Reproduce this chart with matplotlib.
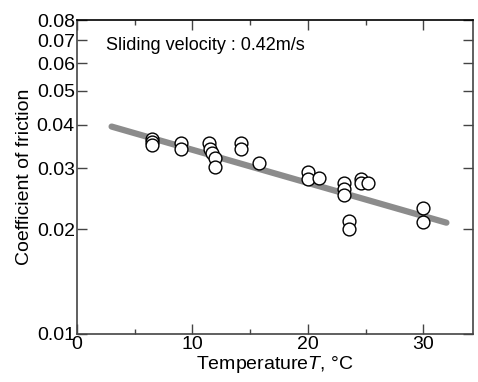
import matplotlib.pyplot as plt
from matplotlib.ticker import FixedLocator, NullLocator

plt.rcParams['font.family'] = ['Liberation Sans', 'DejaVu Sans']
plt.rcParams['mathtext.fontset'] = 'custom'
plt.rcParams['mathtext.it'] = 'Liberation Sans:italic'
plt.rcParams['mathtext.rm'] = 'Liberation Sans'

# measured points (temperature in C, coefficient of friction)
temp = [6.5, 6.5, 6.5, 9.0, 9.0, 11.4, 11.5, 11.7, 11.95, 11.95,
        14.2, 14.2, 15.8, 20.0, 20.0, 20.95, 23.1, 23.1, 23.1, 23.6, 23.6,
        24.6, 24.6, 25.2, 30.0, 30.0]
mu = [0.0364, 0.0356, 0.0350, 0.0354, 0.0340, 0.0354, 0.0340, 0.0332, 0.0321, 0.0302,
      0.0354, 0.0340, 0.0311, 0.0292, 0.0280, 0.0281, 0.0271, 0.0261, 0.0251, 0.0212, 0.0201,
      0.0280, 0.0271, 0.0271, 0.0231, 0.0210]

# fitted line end points
fit_t = [3, 32]
fit_mu = [0.0395, 0.0209]

yticks = [0.01, 0.02, 0.03, 0.04, 0.05, 0.06, 0.07, 0.08]
ylabels = ["0.01", "0.02", "0.03", "0.04", "0.05", "0.06", "0.07", "0.08"]

fig = plt.figure(figsize=(4.78, 3.82), dpi=100)
ax = fig.add_axes([0.161, 0.1257, 0.8285, 0.8219])

ax.plot(fit_t, fit_mu, color="#8c8c8c", lw=4.5, solid_capstyle="round", zorder=2)
ax.scatter(temp, mu, s=85, facecolor="white", edgecolor="black", linewidth=1.0, zorder=3)

ax.set_yscale("log")
ax.set_xlim(0, 34.3)
ax.set_ylim(0.01, 0.08)
ax.yaxis.set_major_locator(FixedLocator(yticks))
ax.yaxis.set_minor_locator(NullLocator())
ax.set_yticklabels(ylabels)
ax.set_xticks([0, 10, 20, 30])
ax.set_xticks([5, 15, 25], minor=True)

ax.tick_params(which="both", direction="in", top=True, right=True, labelsize=14, width=1, color="#444444")
ax.tick_params(which="major", length=7, pad=1.5)
ax.tick_params(which="minor", length=3.5)
for s in ax.spines.values():
    s.set_color("#444444")
    s.set_linewidth(1.2)
ax.spines["top"].set_color("black")

ax.set_xlabel("Temperature$\\it{T}$, °C", fontsize=14, labelpad=1)
ax.set_ylabel("Coefficient of friction", fontsize=14, labelpad=3)
ax.text(0.073, 0.92, "Sliding velocity : 0.42m/s", transform=ax.transAxes,
        fontsize=13, va="center", ha="left")

fig.savefig("out.png", dpi=100)
